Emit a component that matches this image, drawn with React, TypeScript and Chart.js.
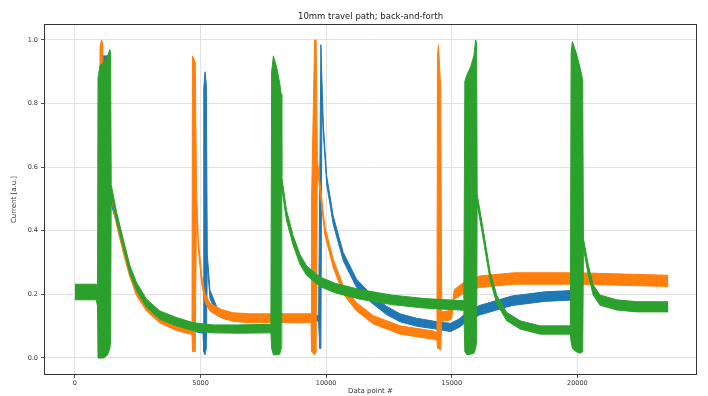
import { useEffect, useRef } from "react";
import { Chart, registerables } from "chart.js";

Chart.register(...registerables);

const chartTitle = "10mm travel path; back-and-forth";
const xAxisTitle = "Data point #";
const yAxisTitle = "Current [a.u.]";
const xTicks = [0, 5000, 10000, 15000, 20000];
const yTicks = [0, 0.2, 0.4, 0.6, 0.8, 1.0];

// Each trace is a noisy band: lower and upper envelope.
const blueX = [0, 1000, 1020, 1300, 1360, 1660, 1925, 2190, 2455, 2850, 3380, 4050, 5100, 5130, 5180, 5230, 5270, 5375, 5640, 6000, 7000, 9700, 9740, 9790, 9830, 9890, 10020, 10280, 10680, 11210, 11740, 12410, 12940, 13600, 14270, 14600, 14950, 15300, 15600, 16100, 17400, 18700, 20000, 20230];
const blueLo = [0.188, 0.188, 0.01, 0.01, 0.505, 0.425, 0.34, 0.26, 0.205, 0.155, 0.117, 0.094, 0.078, 0.02, 0.01, 0.03, 0.295, 0.187, 0.14, 0.122, 0.116, 0.116, 0.03, 0.03, 0.8, 0.705, 0.547, 0.421, 0.306, 0.222, 0.178, 0.136, 0.114, 0.1, 0.092, 0.088, 0.083, 0.097, 0.115, 0.135, 0.165, 0.178, 0.183, 0.18];
const blueHi = [0.212, 0.212, 0.95, 0.95, 0.535, 0.45, 0.365, 0.285, 0.23, 0.18, 0.141, 0.118, 0.1, 0.85, 0.9, 0.86, 0.325, 0.213, 0.162, 0.138, 0.134, 0.134, 0.5, 0.985, 0.88, 0.73, 0.573, 0.447, 0.332, 0.248, 0.204, 0.162, 0.139, 0.125, 0.116, 0.112, 0.109, 0.123, 0.145, 0.165, 0.195, 0.208, 0.213, 0.21];

const orangeX = [0, 980, 1000, 1060, 1110, 1140, 1450, 1660, 1925, 2190, 2455, 2850, 3380, 4050, 4660, 4680, 4790, 4840, 4910, 5040, 5175, 5375, 5770, 6300, 7000, 9400, 9420, 9540, 9600, 9650, 9950, 10280, 10680, 11210, 11880, 12940, 14270, 14410, 14430, 14470, 14560, 14600, 14950, 15000, 15100, 15500, 16100, 17500, 20000, 23620];
const orangeLo = [0.19, 0.19, 0.0, 0.0, 0.02, 0.535, 0.507, 0.417, 0.331, 0.254, 0.196, 0.148, 0.11, 0.086, 0.074, 0.02, 0.02, 0.485, 0.345, 0.237, 0.177, 0.147, 0.128, 0.115, 0.111, 0.111, 0.02, 0.01, 0.02, 0.595, 0.387, 0.285, 0.201, 0.148, 0.107, 0.075, 0.059, 0.055, 0.03, 0.03, 0.025, 0.115, 0.12, 0.125, 0.185, 0.205, 0.222, 0.232, 0.232, 0.225];
const orangeHi = [0.215, 0.215, 0.98, 1.0, 0.99, 0.565, 0.533, 0.443, 0.356, 0.278, 0.22, 0.172, 0.134, 0.109, 0.096, 0.95, 0.93, 0.525, 0.375, 0.263, 0.203, 0.173, 0.154, 0.142, 0.139, 0.139, 0.5, 1.0, 1.0, 0.625, 0.413, 0.311, 0.227, 0.174, 0.133, 0.101, 0.085, 0.08, 0.95, 0.985, 0.85, 0.145, 0.15, 0.155, 0.215, 0.239, 0.258, 0.268, 0.268, 0.26];

const greenX = [0, 850, 900, 920, 1000, 1150, 1300, 1390, 1420, 1445, 1660, 1925, 2190, 2455, 2850, 3380, 4050, 4710, 5500, 6500, 7800, 7830, 7900, 8030, 8150, 8210, 8235, 8420, 8685, 8960, 9220, 9750, 10350, 11350, 12600, 13900, 15480, 15520, 15600, 15750, 15880, 15950, 15990, 16010, 16270, 16530, 16800, 17190, 17720, 18510, 19720, 19750, 19800, 19950, 20100, 20210, 20240, 20430, 20630, 20900, 21560, 22360, 23620];
const greenLo = [0.183, 0.183, 0.163, 0.0, 0.0, 0.0, 0.01, 0.03, 0.05, 0.515, 0.43, 0.347, 0.265, 0.211, 0.16, 0.122, 0.101, 0.086, 0.079, 0.078, 0.079, 0.03, 0.01, 0.01, 0.012, 0.03, 0.535, 0.433, 0.355, 0.295, 0.26, 0.225, 0.205, 0.185, 0.168, 0.157, 0.15, 0.02, 0.01, 0.012, 0.015, 0.03, 0.05, 0.485, 0.365, 0.243, 0.169, 0.117, 0.091, 0.075, 0.075, 0.05, 0.03, 0.02, 0.015, 0.02, 0.345, 0.262, 0.198, 0.166, 0.151, 0.145, 0.145];
const greenHi = [0.232, 0.232, 0.212, 0.88, 0.92, 0.93, 0.95, 0.97, 0.96, 0.545, 0.458, 0.373, 0.29, 0.237, 0.185, 0.148, 0.127, 0.111, 0.104, 0.104, 0.106, 0.9, 0.95, 0.915, 0.865, 0.83, 0.57, 0.465, 0.385, 0.325, 0.29, 0.255, 0.235, 0.215, 0.198, 0.187, 0.18, 0.87, 0.89, 0.915, 0.95, 1.0, 0.99, 0.515, 0.395, 0.269, 0.195, 0.143, 0.117, 0.101, 0.101, 0.96, 0.995, 0.96, 0.915, 0.875, 0.375, 0.293, 0.23, 0.198, 0.183, 0.177, 0.177];

const seriesColors = ["#1f77b4", "#ff7f0e", "#2ca02c"];

export default function App() {
  const ref = useRef<HTMLCanvasElement>(null);

  useEffect(() => {
    const canvas = ref.current;
    if (!canvas) return;
    const pts = (xs: number[], ys: number[]) => xs.map((x, i) => ({ x, y: ys[i] }));
    const series = [
      { x: blueX, lo: blueLo, hi: blueHi, color: seriesColors[0], order: 3 },
      { x: orangeX, lo: orangeLo, hi: orangeHi, color: seriesColors[1], order: 2 },
      { x: greenX, lo: greenLo, hi: greenHi, color: seriesColors[2], order: 1 },
    ];
    const datasets: any[] = [];
    series.forEach((s) => {
      datasets.push({
        data: pts(s.x, s.lo),
        borderColor: s.color,
        borderWidth: 1,
        pointRadius: 0,
        tension: 0,
        fill: false,
        order: s.order,
      });
      datasets.push({
        data: pts(s.x, s.hi),
        borderColor: s.color,
        backgroundColor: s.color,
        borderWidth: 1,
        pointRadius: 0,
        tension: 0,
        fill: "-1",
        order: s.order,
      });
    });

    const frame = {
      id: "frame",
      afterDatasetsDraw(chart: any) {
        const { ctx, chartArea: a } = chart;
        ctx.save();
        ctx.strokeStyle = "#333";
        ctx.lineWidth = 1;
        ctx.strokeRect(Math.round(a.left) + 0.5, Math.round(a.top) + 0.5, Math.round(a.right - a.left) - 1, Math.round(a.bottom - a.top) - 1);
        ctx.restore();
      },
      afterDraw(chart: any) {
        const { ctx, chartArea: a } = chart;
        ctx.save();
        ctx.fillStyle = "#222";
        ctx.font = "8.5px 'DejaVu Sans'";
        ctx.textAlign = "center";
        ctx.textBaseline = "middle";
        ctx.fillText(chartTitle, (a.left + a.right) / 2, 17);
        ctx.restore();
      },
    };

    const tickFont = { family: "'DejaVu Sans'", size: 6.5 };
    const titleFont = { family: "'DejaVu Sans'", size: 7 };

    const chart = new Chart(canvas, {
      type: "line",
      data: { datasets },
      plugins: [frame],
      options: {
        animation: false,
        responsive: false,
        devicePixelRatio: 1,
        layout: { padding: { top: 24, right: 11, left: 0, bottom: 0 } },
        plugins: { legend: { display: false }, tooltip: { enabled: false }, title: { display: false } },
        scales: {
          x: {
            type: "linear",
            min: -1230,
            max: 24760,
            afterBuildTicks: (s: any) => {
              s.ticks = xTicks.map((v) => ({ value: v }));
            },
            afterFit: (s: any) => {
              s.height = 21;
            },
            ticks: { font: tickFont, color: "#333", padding: 1, maxRotation: 0, callback: (v: any) => String(v) },
            grid: { color: "#e2e2e2", tickColor: "#555", tickLength: 3 },
            border: { display: false },
            title: { display: true, text: xAxisTitle, font: titleFont, color: "#333", padding: { top: 0, bottom: 1 } },
          },
          y: {
            type: "linear",
            min: -0.0535,
            max: 1.0503,
            afterBuildTicks: (s: any) => {
              s.ticks = yTicks.map((v) => ({ value: v }));
            },
            afterFit: (s: any) => {
              s.width = 44;
            },
            ticks: { font: tickFont, color: "#333", padding: 3, callback: (v: any) => Number(v).toFixed(1) },
            grid: { color: "#e2e2e2", tickColor: "#555", tickLength: 3 },
            border: { display: false },
            title: { display: true, text: yAxisTitle, font: titleFont, color: "#333", padding: { top: 10, bottom: 0 } },
          },
        },
      },
    });
    return () => chart.destroy();
  }, []);

  return (
    <div style={{ position: "fixed", left: 0, top: 0, width: 708, height: 396, background: "#fff" }}>
      <canvas ref={ref} width={708} height={396} style={{ display: "block", width: 708, height: 396 }} />
    </div>
  );
}
